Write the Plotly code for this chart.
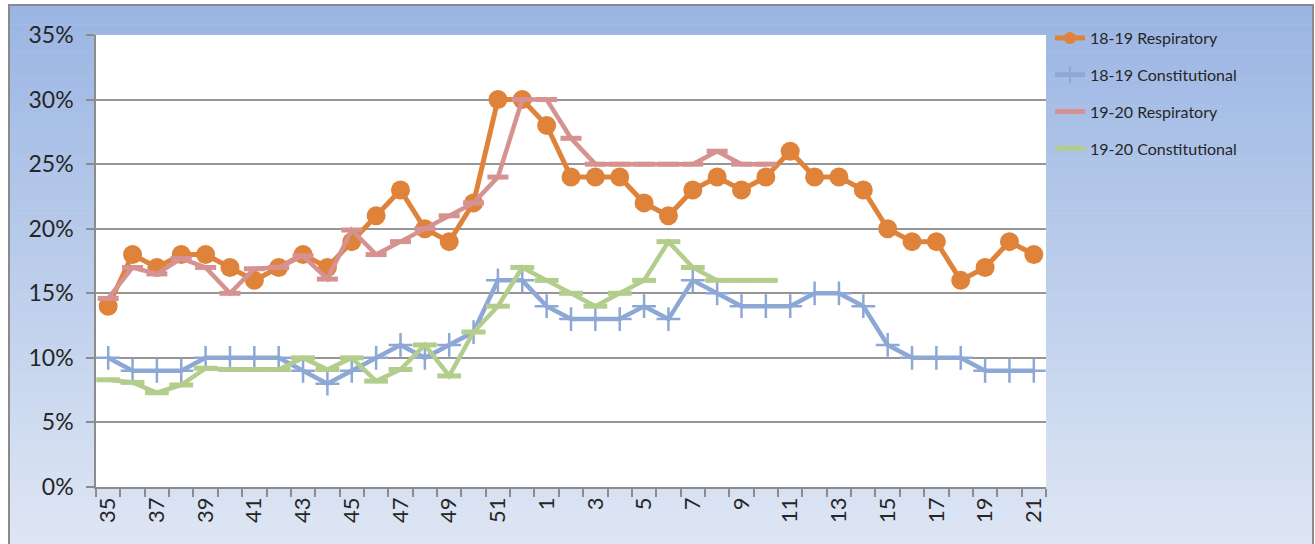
import plotly.graph_objects as go

weeks = [str(w) for w in list(range(35, 53)) + list(range(1, 22))]

resp_1819 = [14, 18, 17, 18, 18, 17, 16, 17, 18, 17, 19, 21, 23, 20, 19, 22, 30, 30,
             28, 24, 24, 24, 22, 21, 23, 24, 23, 24, 26, 24, 24, 23, 20, 19, 19, 16, 17, 19, 18]
const_1819 = [10, 9, 9, 9, 10, 10, 10, 10, 9, 8, 9, 10, 11, 10, 11, 12, 16, 16,
              14, 13, 13, 13, 14, 13, 16, 15, 14, 14, 14, 15, 15, 14, 11, 10, 10, 10, 9, 9, 9]
resp_1920 = [14.6, 17, 16.5, 17.7, 17, 15, 16.9, 17, 17.9, 16.1, 19.9, 18, 19, 20, 21, 22, 24, 30,
             30, 27, 25, 25, 25, 25, 25, 26, 25, 25] + [None] * 11
const_1920 = [8.3, 8.1, 7.3, 7.9, 9.2, 9.1, 9.1, 9.1, 10, 9.1, 10, 8.2, 9.1, 11, 8.6, 12, 14, 17,
              16, 15, 14, 15, 16, 19, 17, 16, 16, 16] + [None] * 11

tick_labels = [w if i % 2 == 0 else "" for i, w in enumerate(weeks)]
y_ticks = [0, 5, 10, 15, 20, 25, 30, 35]
y_tick_labels = ["%d%%" % v for v in y_ticks]

ORANGE = "#DF823A"
BLUE = "#8EA8D6"
PINK = "#D59290"
GREEN = "#B2CD8C"

W, H = 1315, 544
L, R, T, B = 96, 1046, 35, 487
pw, ph = R - L, B - T

def px_x(p):
    return (p - L) / pw

def px_y(p):
    return (B - p) / ph

fig = go.Figure()
fig.add_trace(go.Scatter(x=weeks, y=resp_1819, name="18-19 Respiratory", mode="lines+markers",
                         line=dict(color=ORANGE, width=5),
                         marker=dict(symbol="circle", size=19, color=ORANGE),
                         legendgroup="a"))
fig.add_trace(go.Scatter(x=weeks, y=const_1819, name="18-19 Constitutional", mode="lines+markers",
                         line=dict(color=BLUE, width=4.5),
                         marker=dict(symbol="cross-thin", size=17, color=BLUE,
                                     line=dict(color=BLUE, width=2.5)),
                         legendgroup="b"))
fig.add_trace(go.Scatter(x=weeks, y=resp_1920, name="19-20 Respiratory", mode="lines+markers",
                         line=dict(color=PINK, width=4.5),
                         marker=dict(symbol="line-ew", size=15, color=PINK,
                                     line=dict(color=PINK, width=5)),
                         legendgroup="c"))
fig.add_trace(go.Scatter(x=weeks, y=const_1920, name="19-20 Constitutional", mode="lines+markers",
                         line=dict(color=GREEN, width=4.5),
                         marker=dict(symbol="line-ew", size=17, color=GREEN,
                                     line=dict(color=GREEN, width=5)),
                         legendgroup="d"))

shapes = []
# vertical gradient background (chart area)
top_c = (154, 181, 227)
bot_c = (222, 230, 244)
gy0, gy1 = 4, 544
n = 80
for i in range(n):
    f = (i + 0.5) / n
    c = tuple(round(top_c[k] + (bot_c[k] - top_c[k]) * f) for k in range(3))
    ya = gy0 + (gy1 - gy0) * i / n
    yb = gy0 + (gy1 - gy0) * (i + 1) / n + 0.6
    shapes.append(dict(type="rect", xref="paper", yref="paper",
                       x0=px_x(8), x1=px_x(1314), y0=px_y(ya), y1=px_y(yb),
                       fillcolor="rgb(%d,%d,%d)" % c, line=dict(width=0), layer="below"))
# white plot area
shapes.append(dict(type="rect", xref="x domain", yref="y domain", x0=0, x1=1, y0=0, y1=1,
                   fillcolor="white", line=dict(width=0), layer="below"))
# outer border
shapes.append(dict(type="rect", xref="paper", yref="paper",
                   x0=px_x(9), x1=px_x(1313), y0=px_y(5), y1=px_y(546),
                   fillcolor="rgba(0,0,0,0)", line=dict(color="#8a8a8a", width=2), layer="above"))

fig.update_layout(
    width=W, height=H,
    margin=dict(l=L, r=W - R, t=T, b=H - B, pad=0),
    paper_bgcolor="white",
    plot_bgcolor="white",
    font=dict(family="Lato, Carlito, 'Open Sans', sans-serif", color="#262626"),
    shapes=shapes,
    showlegend=True,
    legend=dict(x=px_x(1050), xanchor="left", y=px_y(21), yanchor="top",
                bgcolor="rgba(0,0,0,0)", font=dict(size=16, color="#262626"),
                tracegroupgap=13, itemwidth=30, itemsizing="constant"),
    xaxis=dict(type="category", tickmode="array", tickvals=weeks, ticktext=tick_labels,
               tickangle=-90, tickson="boundaries", ticks="outside", ticklen=8,
               tickcolor="#8c8c8c", tickwidth=1.5,
               showline=True, linecolor="#8c8c8c", linewidth=1.5,
               showgrid=False, tickfont=dict(size=22, color="#262626"),
               range=[-0.5, len(weeks) - 0.5], fixedrange=True),
    yaxis=dict(range=[0, 35], tickmode="array", tickvals=y_ticks, ticktext=y_tick_labels,
               ticks="outside", ticklen=8, tickcolor="#8c8c8c", tickwidth=1.5,
               showline=True, linecolor="#8c8c8c", linewidth=1.5,
               showgrid=True, gridcolor="#969696", gridwidth=1.5, zeroline=False,
               ticklabelstandoff=8,
               tickfont=dict(size=23, color="#262626")),
)

fig.write_html("out.html", config={"displayModeBar": False},
               post_script="document.body.style.margin='0';document.body.style.overflow='hidden';")
